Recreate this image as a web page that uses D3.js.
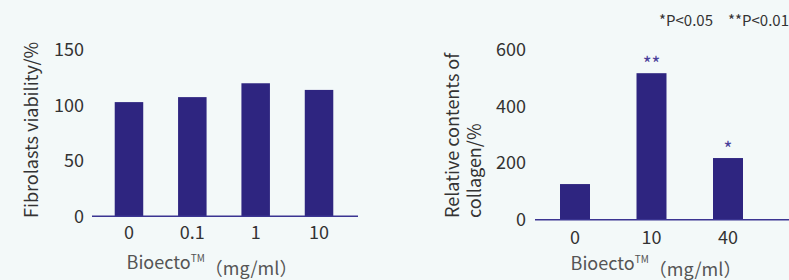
<!DOCTYPE html>
<html><head><meta charset="utf-8">
<script src="https://cdn.jsdelivr.net/npm/d3@7"></script>
<style>
html,body{margin:0;padding:0;background:#f3f9f9;}
svg{display:block;}
text{font-family:"Noto Sans CJK SC","Noto Sans",sans-serif;}
</style></head><body>
<svg id="c" width="789" height="280"></svg>
<script>
const leftCategories = ["0", "0.1", "1", "10"];
const leftValues = [103, 107.5, 120, 114];
const leftTicks = [0, 50, 100, 150];

const rightCategories = ["0", "10", "40"];
const rightValues = [126, 518, 218];
const rightMarks = ["", "**", "*"];
const rightTicks = [0, 200, 400, 600];

const leftYTitle = ["Fibrolasts viability/%"];
const rightYTitle = ["Relative contents of", "collagen/%"];
const xTitle = "Bioecto";
const xUnit = "（mg/ml）";
const legendText = "*P<0.05\u2002\u2002**P<0.01";

const barColor = "#2e2580";
const axisColor = "#3b3592";
const textColor = "#333";
const FS = 18;

const svg = d3.select("#c");

function panel(cfg) {
  const g = svg.append("g");
  const x = d3.scaleBand().domain(cfg.cats).range(cfg.xr).paddingInner(cfg.pi).paddingOuter(cfg.po);
  const y = d3.scaleLinear().domain(cfg.yd).range(cfg.yr);

  g.selectAll("rect.bar").data(cfg.vals).enter().append("rect")
    .attr("class", "bar")
    .attr("x", (d, i) => x(cfg.cats[i]))
    .attr("width", x.bandwidth())
    .attr("y", d => y(d))
    .attr("height", d => y(0) - y(d))
    .attr("fill", barColor);

  g.append("line").attr("x1", cfg.axX[0]).attr("x2", cfg.axX[1])
    .attr("y1", y(0)).attr("y2", y(0))
    .attr("stroke", axisColor).attr("stroke-width", 1.5);

  const ya = d3.axisLeft(y).tickValues(cfg.ticks).tickSize(0).tickPadding(0);
  const yg = g.append("g").attr("transform", `translate(${cfg.yLabX},0)`).call(ya);
  yg.select(".domain").remove();
  yg.selectAll("text").attr("font-size", FS).attr("fill", textColor)
    .attr("font-family", '"Noto Sans CJK SC","Noto Sans",sans-serif');

  const xa = d3.axisBottom(x).tickSize(0).tickPadding(0);
  const xg = g.append("g").attr("transform", `translate(0,${cfg.xLabY})`).call(xa);
  xg.select(".domain").remove();
  xg.selectAll("text").attr("font-size", FS).attr("fill", textColor).attr("dy", "0.35em")
    .attr("font-family", '"Noto Sans CJK SC","Noto Sans",sans-serif');

  cfg.yTitle.forEach((t, i) => {
    g.append("text")
      .attr("transform", `translate(${cfg.yTitleX + i * cfg.yTitleLH},${cfg.yTitleY}) rotate(-90)`)
      .attr("text-anchor", "start")
      .attr("dy", "0.35em")
      .attr("font-size", FS).attr("fill", textColor)
      .text(t);
  });

  const xt = g.append("text").attr("x", cfg.xTitleX).attr("y", cfg.xTitleY)
    .attr("text-anchor", "middle").attr("dy", "0.35em")
    .attr("font-size", FS).attr("fill", "#555");
  xt.append("tspan").text(xTitle);
  xt.append("tspan").attr("font-size", 10).attr("dy", "-0.7em").text("TM");
  xt.append("tspan").attr("dy", "0.7em").text(xUnit);

  return {g, x, y};
}

panel({
  cats: leftCategories, vals: leftValues, ticks: leftTicks,
  xr: [97.3, 350.7], pi: 0.55, po: 0.275,
  yd: [0, 150], yr: [216.3, 50],
  axX: [92, 358], yLabX: 84, xLabY: 233,
  yTitle: leftYTitle, yTitleX: 32, yTitleLH: 22, yTitleY: 218,
  xTitleX: 212, xTitleY: 263
});

const r = panel({
  cats: rightCategories, vals: rightValues, ticks: rightTicks,
  xr: [536.75, 766.25], pi: 0.608, po: 0.304,
  yd: [0, 600], yr: [219.7, 50],
  axX: [535, 789], yLabX: 526, xLabY: 238,
  yTitle: rightYTitle, yTitleX: 453, yTitleLH: 22, yTitleY: 218,
  xTitleX: 656, xTitleY: 264
});

r.g.selectAll("text.mark").data(rightMarks).enter().append("text")
  .attr("class", "mark")
  .attr("x", (d, i) => r.x(rightCategories[i]) + r.x.bandwidth() / 2)
  .attr("y", (d, i) => r.y(rightValues[i]) - 2)
  .attr("text-anchor", "middle")
  .attr("font-size", 19).attr("fill", "#4a3f9a")
  .text(d => d);

svg.append("text").attr("x", 789).attr("y", 21).attr("dy", "0.35em")
  .attr("text-anchor", "end").attr("font-size", 15).attr("fill", textColor)
  .text(legendText);
</script>
</body></html>
